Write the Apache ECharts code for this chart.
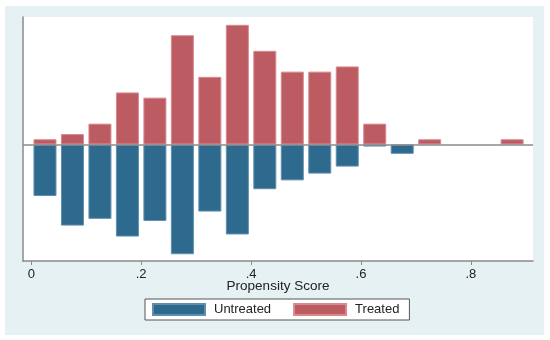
<!DOCTYPE html>
<html>
<head>
<meta charset="utf-8">
<script src="https://cdn.jsdelivr.net/npm/echarts@6/dist/echarts.min.js"></script>
<style>
  html, body { margin: 0; padding: 0; background: #ffffff; }
  #wrap { position: relative; width: 550px; height: 340px; }
  #bg { position: absolute; left: 5px; top: 6px; width: 539px; height: 329px; background: #e6f1f3; }
  #chart { position: absolute; left: 0; top: 0; width: 550px; height: 340px; }
</style>
</head>
<body>
<div id="wrap"><div id="bg"></div><div id="chart"></div></div>
<script>
// Bin centres (propensity score, bin width 0.05)
var binCenters = [0.025, 0.075, 0.125, 0.175, 0.225, 0.275, 0.325, 0.375, 0.425,
                  0.475, 0.525, 0.575, 0.625, 0.675, 0.725, 0.775, 0.825, 0.875];
// Treated (upper half)
var treated = [1, 2, 4, 10, 9, 21, 13, 23, 18, 14, 14, 15, 4, 0, 1, 0, 0, 1];
// Untreated (mirrored, lower half)
var untreated = [-9.9, -15.6, -14.3, -17.7, -14.7, -21.1, -12.9, -17.3, -8.6,
                 -6.9, -5.6, -4.25, -0.4, -1.8, 0, 0, 0, 0];
// X tick labels
var xTicks = [0, 0.2, 0.4, 0.6, 0.8];
var xTickLabels = ['0', '.2', '.4', '.6', '.8'];

var font = '"Liberation Sans", Arial, Helvetica, sans-serif';

function pairs(vals) {
  var out = [];
  for (var i = 0; i < binCenters.length; i++) {
    if (vals[i] !== 0) out.push([binCenters[i], vals[i]]);
  }
  return out;
}

var chart = echarts.init(document.getElementById('chart'), null, { renderer: 'canvas' });
chart.setOption({
  backgroundColor: 'transparent',
  animation: false,
  grid: {
    left: 23, top: 17, width: 510, height: 244,
    show: true, backgroundColor: '#ffffff', borderWidth: 0
  },
  legend: {
    left: 145, top: 299,
    data: ['Untreated', 'Treated'],
    icon: 'rect',
    itemWidth: 52, itemHeight: 11,
    itemGap: 22,
    padding: [4, 10, 4, 7],
    backgroundColor: '#ffffff',
    borderColor: '#555555', borderWidth: 1, borderRadius: 0,
    textStyle: { fontFamily: font, fontSize: 13, color: '#222222', padding: [0, 0, 0, 4] },
    selectedMode: false
  },
  xAxis: {
    type: 'value',
    min: -0.015, max: 0.913,
    name: 'Propensity Score',
    nameLocation: 'middle',
    nameGap: 18,
    nameMoveOverlap: false,
    nameTextStyle: { fontFamily: font, fontSize: 13.5, color: '#222222' },
    axisLine: { show: true, onZero: false, lineStyle: { color: '#8a8a8a', width: 1.5 } },
    axisTick: { show: true, length: 4, customValues: xTicks, lineStyle: { color: '#8a8a8a', width: 1 } },
    axisLabel: {
      customValues: xTicks, margin: 7,
      fontFamily: font, fontSize: 13, color: '#222222',
      formatter: function (v) {
        var idx = xTicks.indexOf(Math.round(v * 10) / 10);
        return idx >= 0 ? xTickLabels[idx] : '';
      }
    },
    splitLine: { show: false }
  },
  yAxis: {
    type: 'value',
    min: -22.4, max: 24.5,
    axisLine: { show: true, onZero: false, lineStyle: { color: '#8a8a8a', width: 1.5 } },
    axisTick: { show: false },
    axisLabel: { show: false },
    splitLine: { show: false }
  },
  series: [
    {
      name: 'Untreated', type: 'bar', stack: 'ps',
      barWidth: 23,
      itemStyle: { color: '#2d6a8d', borderColor: '#5f8fad', borderWidth: 1 },
      data: pairs(untreated)
    },
    {
      name: 'Treated', type: 'bar', stack: 'ps',
      barWidth: 23,
      itemStyle: { color: '#bc5b62', borderColor: '#d88a8f', borderWidth: 1 },
      data: pairs(treated),
      markLine: {
        silent: true, symbol: 'none', label: { show: false },
        lineStyle: { color: '#8a8a8a', width: 1.5, type: 'solid' },
        data: [{ yAxis: 0 }]
      }
    }
  ]
});
</script>
</body>
</html>
